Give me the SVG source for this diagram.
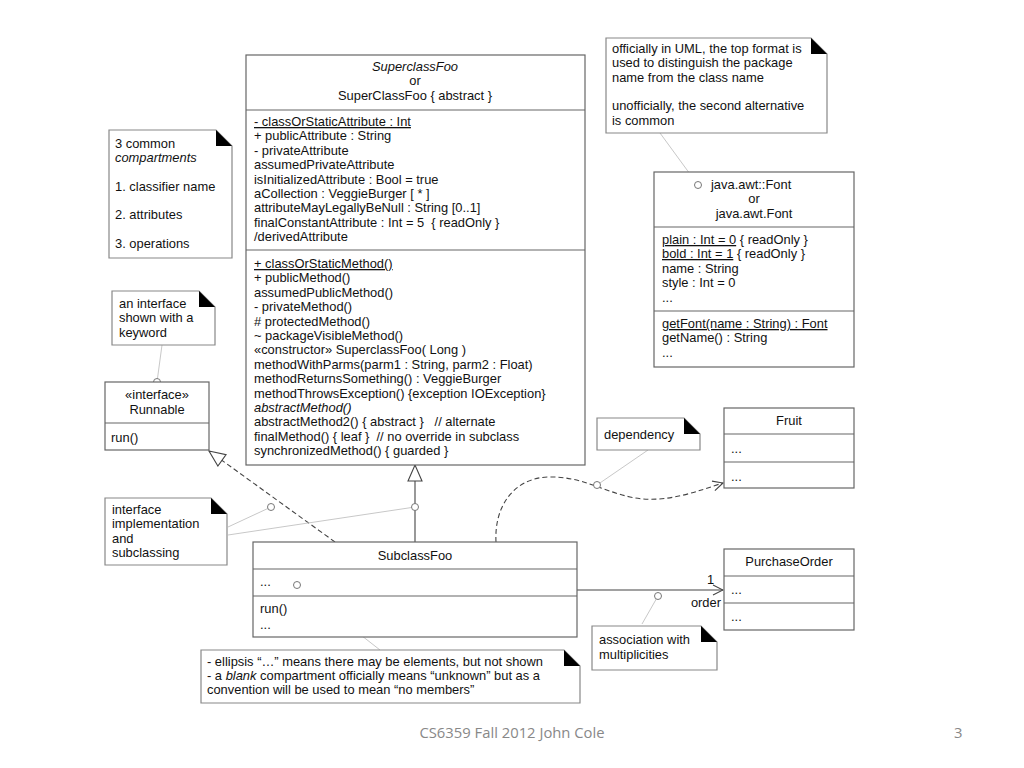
<svg xmlns="http://www.w3.org/2000/svg" width="1024" height="768" viewBox="0 0 1024 768">
<defs>
<style>
text{font-family:"Liberation Sans",Arial,sans-serif;font-size:12.9px;fill:#111;white-space:pre}
.c{text-anchor:middle}
.i{font-style:italic}
.u{text-decoration:underline}
.box{fill:#fff;stroke:#666;stroke-width:1.2}
.div{stroke:#666;stroke-width:1.2;fill:none}
.note{fill:#fff;stroke:#888;stroke-width:1.2}
.ear{fill:#000}
.ann{stroke:#c8c8c8;stroke-width:1;fill:none}
.anc{fill:#fff;stroke:#777;stroke-width:1}
.ln{stroke:#444;stroke-width:1.1;fill:none}
.dash{stroke-dasharray:5,3}
.foot{font-family:"Open Sans","Liberation Sans",sans-serif;font-size:14.8px;fill:#888}
</style>
<marker id="tri" markerUnits="userSpaceOnUse" markerWidth="18" markerHeight="16" viewBox="0 0 18 16" refX="17" refY="8" orient="auto">
<path d="M1,1 L17,8 L1,15 Z" fill="#fff" stroke="#444" stroke-width="1.1"/>
</marker>
<marker id="open" markerUnits="userSpaceOnUse" markerWidth="12" markerHeight="12" viewBox="0 0 12 12" refX="11" refY="6" orient="auto">
<path d="M1,1 L11,6 L1,11" fill="none" stroke="#444" stroke-width="1.1"/>
</marker>
</defs>
<rect width="1024" height="768" fill="#fff"/>

<g id="connectors">
<path class="ln dash" d="M335,542 L209,451" marker-end="url(#tri)"/>
<path class="ln" d="M415,542 L415,465" marker-end="url(#tri)"/>
<path class="ln dash" d="M496,542 C494,505 515,478 548,477 C580,476 600,490 630,497 C665,505 700,490 723,483" marker-end="url(#open)"/>
<path class="ln" d="M577,590 L723,590" marker-end="url(#open)"/>
<text x="707" y="584">1</text>
<text x="721" y="607" text-anchor="end">order</text>
<path class="ann" d="M162,345 L157,382"/>
<path class="ann" d="M660,133 L698,185"/>
<path class="ann" d="M648,450 L597,485"/>
<path class="ann" d="M228,527 L271,507"/>
<path class="ann" d="M228,535 L415,507"/>
<path class="ann" d="M297,585 L380,650"/>
<path class="ann" d="M658,596 L642,624"/>
<circle class="anc" cx="157" cy="382" r="3.5"/>
<circle class="anc" cx="271" cy="507" r="3.5"/>
<circle class="anc" cx="415" cy="507" r="3.5"/>
<circle class="anc" cx="597" cy="485" r="3.5"/>
<circle class="anc" cx="658" cy="596" r="3.5"/>
</g>

<g id="SuperclassFoo">
<rect class="box" x="246" y="55" width="339" height="410"/>
<path class="div" d="M246,110 H585 M246,250 H585"/>
<text class="c i" x="415" y="71">SuperclassFoo</text>
<text class="c" x="415" y="85">or</text>
<text class="c" x="415" y="100">SuperClassFoo { abstract }</text>
<text x="254" y="126" class="u">- classOrStaticAttribute : Int</text>
<text x="254" y="140.4">+ publicAttribute : String</text>
<text x="254" y="154.8">- privateAttribute</text>
<text x="254" y="169.2">assumedPrivateAttribute</text>
<text x="254" y="183.6">isInitializedAttribute : Bool = true</text>
<text x="254" y="198">aCollection : VeggieBurger [ * ]</text>
<text x="254" y="212.4">attributeMayLegallyBeNull : String [0..1]</text>
<text x="254" y="226.8">finalConstantAttribute : Int = 5  { readOnly }</text>
<text x="254" y="241.2">/derivedAttribute</text>
<text x="254" y="268" class="u">+ classOrStaticMethod()</text>
<text x="254" y="282.4">+ publicMethod()</text>
<text x="254" y="296.8">assumedPublicMethod()</text>
<text x="254" y="311.2">- privateMethod()</text>
<text x="254" y="325.6"># protectedMethod()</text>
<text x="254" y="340">~ packageVisibleMethod()</text>
<text x="254" y="354.4">«constructor» SuperclassFoo( Long )</text>
<text x="254" y="368.8">methodWithParms(parm1 : String, parm2 : Float)</text>
<text x="254" y="383.2">methodReturnsSomething() : VeggieBurger</text>
<text x="254" y="397.6">methodThrowsException() {exception IOException}</text>
<text x="254" y="412" class="i">abstractMethod()</text>
<text x="254" y="426.4">abstractMethod2() { abstract }   // alternate</text>
<text x="254" y="440.8">finalMethod() { leaf }  // no override in subclass</text>
<text x="254" y="455.2">synchronizedMethod() { guarded }</text>
</g>

<g id="note-compartments">
<path class="note" d="M109,130 H216 L232,146 V258 H109 Z"/>
<path class="ear" d="M216,130 L232,146 L216,146 Z"/>
<text x="115" y="148">3 common</text>
<text x="115" y="162" class="i">compartments</text>
<text x="115" y="191">1. classifier name</text>
<text x="115" y="219">2. attributes</text>
<text x="115" y="248">3. operations</text>
</g>

<g id="note-interface">
<path class="note" d="M112,291 H199 L215,307 V345 H112 Z"/>
<path class="ear" d="M199,291 L215,307 L199,307 Z"/>
<text x="119" y="308">an interface</text>
<text x="119" y="322">shown with a</text>
<text x="119" y="337">keyword</text>
</g>

<g id="Runnable">
<rect class="box" x="105" y="382" width="104" height="68"/>
<path class="div" d="M105,423 H209"/>
<text class="c" x="157" y="399">«interface»</text>
<text class="c" x="157" y="414">Runnable</text>
<text x="111" y="442">run()</text>
</g>

<g id="note-implementation">
<path class="note" d="M105,498 H211 L227,514 V565 H105 Z"/>
<path class="ear" d="M211,498 L227,514 L211,514 Z"/>
<text x="112" y="514">interface</text>
<text x="112" y="528">implementation</text>
<text x="112" y="543">and</text>
<text x="112" y="557">subclassing</text>
</g>

<g id="SubclassFoo">
<rect class="box" x="253" y="542" width="324" height="95"/>
<path class="div" d="M253,569 H577 M253,596 H577"/>
<text class="c" x="415" y="560">SubclassFoo</text>
<text x="260" y="586">...</text>
<circle class="anc" cx="297" cy="585" r="3.5"/>
<text x="260" y="613">run()</text>
<text x="260" y="629">...</text>
</g>

<g id="note-ellipsis">
<path class="note" d="M201,650 H564 L580,666 V703 H201 Z"/>
<path class="ear" d="M564,650 L580,666 L564,666 Z"/>
<text x="207" y="666">- ellipsis “…” means there may be elements, but not shown</text>
<text x="207" y="680">- a <tspan class="i">blank</tspan> compartment officially means “unknown” but as a</text>
<text x="207" y="694">convention will be used to mean “no members”</text>
</g>

<g id="note-uml">
<path class="note" d="M606,38 H811 L827,54 V133 H606 Z"/>
<path class="ear" d="M811,38 L827,54 L811,54 Z"/>
<text x="612" y="53">officially in UML, the top format is</text>
<text x="612" y="67">used to distinguish the package</text>
<text x="612" y="82">name from the class name</text>
<text x="612" y="110">unofficially, the second alternative</text>
<text x="612" y="125">is common</text>
</g>

<g id="Font">
<rect class="box" x="654" y="172" width="200" height="195"/>
<path class="div" d="M654,227 H854 M654,311 H854"/>
<circle class="anc" cx="698" cy="185" r="3.5"/>
<text x="711" y="189">java.awt::Font</text>
<text class="c" x="754" y="203">or</text>
<text class="c" x="754" y="218">java.awt.Font</text>
<text x="662" y="244"><tspan class="u">plain : Int = 0</tspan> { readOnly }</text>
<text x="662" y="258"><tspan class="u">bold : Int = 1</tspan> { readOnly }</text>
<text x="662" y="273">name : String</text>
<text x="662" y="287">style : Int = 0</text>
<text x="662" y="302">...</text>
<text x="662" y="328" class="u">getFont(name : String) : Font</text>
<text x="662" y="342">getName() : String</text>
<text x="662" y="357">...</text>
</g>

<g id="note-dependency">
<path class="note" d="M597,418 H684 L700,434 V450 H597 Z"/>
<path class="ear" d="M684,418 L700,434 L684,434 Z"/>
<text x="604" y="439">dependency</text>
</g>

<g id="Fruit">
<rect class="box" x="724" y="408" width="130" height="80"/>
<path class="div" d="M724,434 H854 M724,462 H854"/>
<text class="c" x="789" y="425">Fruit</text>
<text x="731" y="453">...</text>
<text x="731" y="481">...</text>
</g>

<g id="PurchaseOrder">
<rect class="box" x="724" y="549" width="130" height="81"/>
<path class="div" d="M724,576 H854 M724,603 H854"/>
<text class="c" x="789" y="566">PurchaseOrder</text>
<text x="731" y="594">...</text>
<text x="731" y="621">...</text>
</g>

<g id="note-association">
<path class="note" d="M592,626 H701 L717,642 V670 H592 Z"/>
<path class="ear" d="M701,626 L717,642 L701,642 Z"/>
<text x="599" y="644">association with</text>
<text x="599" y="659">multiplicities</text>
</g>

<g id="footer">
<text class="foot c" x="512" y="738">CS6359 Fall 2012 John Cole</text>
<text class="foot" x="954" y="738">3</text>
</g>
</svg>
